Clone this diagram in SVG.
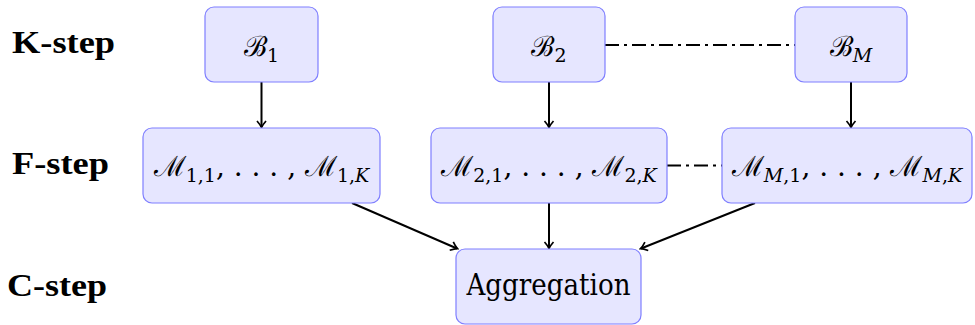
<svg xmlns="http://www.w3.org/2000/svg" width="975" height="325" viewBox="0 0 975 325">
<style>
.box{fill:#e6e6ff;stroke:#7f7fff;stroke-width:1.2}
.lbl{font-family:"Liberation Serif","DejaVu Serif",serif;font-weight:bold;font-size:31px;fill:#000}
.mt{font-family:"DejaVu Serif","Liberation Serif",serif;font-size:28px;fill:#000;text-anchor:middle}
.rt{font-family:"DejaVu Serif","Liberation Serif",serif;font-size:30px;fill:#000;text-anchor:middle}
.sub{font-size:19px}
.it{font-style:italic}
.arr{stroke:#000;stroke-width:2;fill:none;marker-end:url(#ah)}
.dd{stroke:#000;stroke-width:2;fill:none;stroke-dasharray:14 5 3 5}
</style>
<defs>
<marker id="ah" viewBox="-7 -6 9 12" refX="0" refY="0" markerWidth="9" markerHeight="12" markerUnits="userSpaceOnUse" orient="auto">
<path d="M -6 -4.5 Q -2 -1 0.5 0 Q -2 1 -6 4.5" stroke="#000" stroke-width="1.7" fill="none"/>
</marker>
</defs>
<text class="lbl" x="12" y="53" textLength="103" lengthAdjust="spacingAndGlyphs">K-step</text>
<text class="lbl" x="12" y="174" textLength="97" lengthAdjust="spacingAndGlyphs">F-step</text>
<text class="lbl" x="7" y="296" textLength="100" lengthAdjust="spacingAndGlyphs">C-step</text>
<g id="connectors">
<line class="arr" x1="261.5" y1="82" x2="261.5" y2="127"/>
<line class="arr" x1="549" y1="82" x2="549" y2="127"/>
<line class="arr" x1="851" y1="82" x2="851" y2="127"/>
<line class="arr" x1="549" y1="203" x2="549" y2="248"/>
<line class="arr" x1="352" y1="203" x2="457" y2="248.5"/>
<line class="arr" x1="755" y1="203" x2="641" y2="248.5"/>
<line class="dd" x1="605" y1="45" x2="795" y2="45"/>
<line class="dd" x1="667" y1="165.5" x2="722" y2="165.5"/>
</g>
<g id="B1"><rect class="box" x="205" y="7" width="113" height="75" rx="9"/><text class="mt" x="261.5" y="56">ℬ<tspan class="sub" dy="6">1</tspan></text></g>
<g id="B2"><rect class="box" x="493" y="7" width="112" height="75" rx="9"/><text class="mt" x="549" y="56">ℬ<tspan class="sub" dy="6">2</tspan></text></g>
<g id="BM"><rect class="box" x="795" y="7" width="112" height="75" rx="9"/><text class="mt" x="851" y="56">ℬ<tspan class="sub it" dy="6">M</tspan></text></g>
<g id="M1"><rect class="box" x="143" y="128" width="237" height="75" rx="9"/><text class="mt" x="261.5" y="176">ℳ<tspan class="sub" dy="6">1,1</tspan><tspan dy="-6">, . . . , ℳ</tspan><tspan class="sub" dy="6">1,</tspan><tspan class="sub it">K</tspan></text></g>
<g id="M2"><rect class="box" x="431" y="128" width="236" height="75" rx="9"/><text class="mt" x="549" y="176">ℳ<tspan class="sub" dy="6">2,1</tspan><tspan dy="-6">, . . . , ℳ</tspan><tspan class="sub" dy="6">2,</tspan><tspan class="sub it">K</tspan></text></g>
<g id="MM"><rect class="box" x="722" y="128" width="250" height="75" rx="9"/><text class="mt" x="847" y="176">ℳ<tspan class="sub it" dy="6">M</tspan><tspan class="sub">,1</tspan><tspan dy="-6">, . . . , ℳ</tspan><tspan class="sub it" dy="6">M</tspan><tspan class="sub">,</tspan><tspan class="sub it">K</tspan></text></g>
<g id="Agg"><rect class="box" x="456" y="249" width="185" height="75" rx="9"/><text class="rt" x="548.5" y="295" textLength="164" lengthAdjust="spacingAndGlyphs">Aggregation</text></g>
</svg>
